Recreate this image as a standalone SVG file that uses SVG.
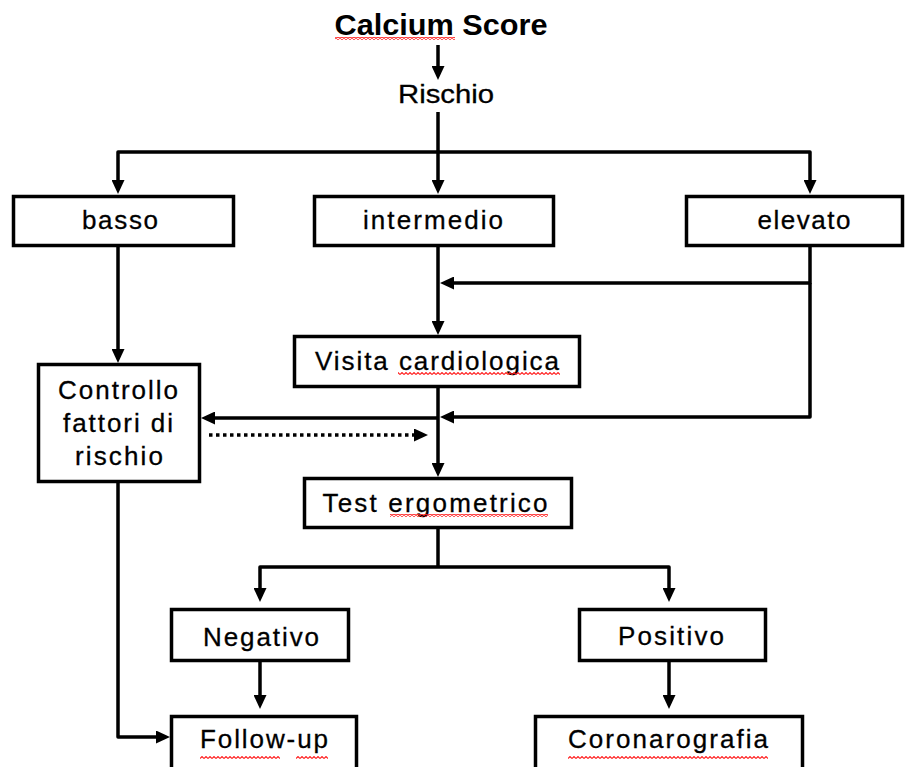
<svg xmlns="http://www.w3.org/2000/svg" width="916" height="767" viewBox="0 0 916 767">
  <style>
    .box { fill: #fff; stroke: #000; stroke-width: 3.5; }
    .lbl { font-family: "Liberation Sans", Arial, sans-serif; font-size: 26px; fill: #000; text-anchor: middle; stroke: #000; stroke-width: 0.3; }
    .title { font-family: "Liberation Sans", Arial, sans-serif; font-size: 29px; font-weight: bold; fill: #000; text-anchor: middle; }
    .wire { fill: none; stroke: #000; stroke-width: 3.5; stroke-linejoin: round; marker-end: url(#arrow); }
    .plain { fill: none; stroke: #000; stroke-width: 3.5; stroke-linejoin: round; }
    .dotted { fill: none; stroke: #000; stroke-width: 3.5; stroke-dasharray: 3.5 3.5; marker-end: url(#arrow); }
    .spell { fill: url(#squiggle); }
  </style>
  <defs>
    <marker id="arrow" markerUnits="userSpaceOnUse" markerWidth="14" markerHeight="13" refX="6" refY="6.5" orient="auto">
      <path d="M0,0 L14,6.5 L0,13 z" fill="#000"/>
    </marker>
    <pattern id="squiggle" patternUnits="userSpaceOnUse" width="4" height="3">
      <path d="M0,2.5 L2,0.5 L4,2.5" fill="none" stroke="#ff2020" stroke-width="1.1"/>
    </pattern>
  </defs>

  <rect width="916" height="767" fill="#fff"/>

  <!-- connectors -->
  <g id="connectors">
    <path class="wire" d="M438,45 V72"/>
    <path class="plain" d="M438,112 V152"/>
    <path class="wire" d="M438,152 V186"/>
    <path class="wire" d="M438,152 H118 V186"/>
    <path class="wire" d="M438,152 H810 V186"/>
    <path class="wire" d="M118,247 V355"/>
    <path class="wire" d="M438,247 V327"/>
    <path class="wire" d="M810,247 V283 H448"/>
    <path class="wire" d="M810,283 V417 H448"/>
    <path class="wire" d="M438,388 V469"/>
    <path class="wire" d="M438,418 H209"/>
    <path class="dotted" d="M209,435 H420"/>
    <path class="plain" d="M438,529 V567"/>
    <path class="wire" d="M438,567 H260 V594"/>
    <path class="wire" d="M438,567 H669 V594"/>
    <path class="wire" d="M260,662 V701"/>
    <path class="wire" d="M669,662 V701"/>
    <path class="wire" d="M118,483 V737 H162"/>
  </g>

  <g id="calcium-score">
    <text class="title" x="441" y="35" textLength="213" lengthAdjust="spacingAndGlyphs">Calcium Score</text>
    <rect class="spell" x="335" y="37" width="120" height="3"/>
  </g>

  <g id="rischio">
    <text class="lbl" x="446" y="103" font-size="23" textLength="96" lengthAdjust="spacingAndGlyphs">Rischio</text>
  </g>

  <g id="basso">
    <rect class="box" x="13.5" y="196.5" width="220" height="49"/>
    <text class="lbl" x="120" y="229" textLength="76" lengthAdjust="spacing">basso</text>
  </g>

  <g id="intermedio">
    <rect class="box" x="314.5" y="196.5" width="239" height="49"/>
    <text class="lbl" x="433" y="229" textLength="140" lengthAdjust="spacing">intermedio</text>
  </g>

  <g id="elevato">
    <rect class="box" x="686.5" y="196.5" width="216" height="49"/>
    <text class="lbl" x="804" y="229" textLength="93" lengthAdjust="spacing">elevato</text>
  </g>

  <g id="visita-cardiologica">
    <rect class="box" x="294.5" y="336.5" width="285" height="50"/>
    <text class="lbl" x="437" y="370" textLength="244" lengthAdjust="spacing">Visita cardiologica</text>
    <rect class="spell" x="398" y="372" width="162" height="3"/>
  </g>

  <g id="controllo-fattori">
    <rect class="box" x="38.5" y="364.5" width="161" height="117"/>
    <text class="lbl" x="118" y="399" font-size="25" textLength="120" lengthAdjust="spacing">Controllo</text>
    <text class="lbl" x="118" y="432" font-size="25" textLength="110" lengthAdjust="spacing">fattori di</text>
    <text class="lbl" x="119" y="465" font-size="25" textLength="88" lengthAdjust="spacing">rischio</text>
  </g>

  <g id="test-ergometrico">
    <rect class="box" x="304.5" y="478.5" width="267" height="49"/>
    <text class="lbl" x="435" y="512" textLength="225" lengthAdjust="spacing">Test ergometrico</text>
    <rect class="spell" x="390" y="514" width="158" height="3"/>
  </g>

  <g id="negativo">
    <rect class="box" x="171.5" y="609.5" width="177" height="51"/>
    <text class="lbl" x="261" y="646" textLength="116" lengthAdjust="spacing">Negativo</text>
  </g>

  <g id="positivo">
    <rect class="box" x="579.5" y="609.5" width="186" height="51"/>
    <text class="lbl" x="671" y="645" textLength="106" lengthAdjust="spacing">Positivo</text>
  </g>

  <g id="follow-up">
    <rect class="box" x="171.5" y="716.5" width="185" height="60"/>
    <text class="lbl" x="264" y="748" textLength="128" lengthAdjust="spacing">Follow-up</text>
    <rect class="spell" x="200" y="756" width="80" height="3"/>
    <rect class="spell" x="296" y="756" width="32" height="3"/>
  </g>

  <g id="coronarografia">
    <rect class="box" x="535.5" y="716.5" width="267" height="60"/>
    <text class="lbl" x="668" y="748" textLength="200" lengthAdjust="spacing">Coronarografia</text>
    <rect class="spell" x="568" y="756" width="200" height="3"/>
  </g>
</svg>
